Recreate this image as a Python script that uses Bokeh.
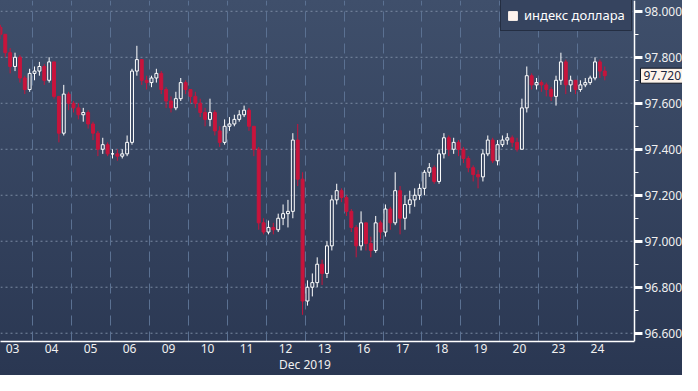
import numpy as np
from bokeh.plotting import figure
from bokeh.models import (Range1d, FixedTicker, CustomJSTickFormatter, NumeralTickFormatter,
                          LinearAxis, Label, Legend, LegendItem, ColumnDataSource, InlineStyleSheet)
from bokeh.embed import file_html
from bokeh.resources import INLINE

# ---------------- data ----------------
day_labels = ["03", "04", "05", "06", "09", "10", "11", "12", "13",
              "16", "17", "18", "19", "20", "23", "24"]
month_label = "Dec 2019"
series_name = "индекс доллара"
candles_per_day = [8] * 15 + [6]
open_first = 97.94

closes = [
    97.93, 97.90, 97.82, 97.76, 97.80, 97.71, 97.66, 97.73,   # 03
    97.74, 97.76, 97.70, 97.78, 97.63, 97.47, 97.64, 97.60,   # 04
    97.58, 97.55, 97.56, 97.51, 97.47, 97.40, 97.42, 97.38,   # 05
    97.38, 97.37, 97.38, 97.43, 97.74, 97.79, 97.70, 97.69,   # 06
    97.71, 97.73, 97.66, 97.61, 97.58, 97.62, 97.69, 97.66,   # 09
    97.63, 97.60, 97.56, 97.53, 97.56, 97.48, 97.43, 97.50,   # 10
    97.51, 97.53, 97.55, 97.57, 97.50, 97.40, 97.08, 97.04,   # 11
    97.06, 97.05, 97.10, 97.12, 97.13, 97.44, 97.27, 96.74,   # 12
    96.80, 96.82, 96.90, 96.86, 96.98, 97.18, 97.22, 97.19,   # 13
    97.13, 97.06, 96.98, 97.08, 96.99, 96.96, 97.08, 97.04,   # 16
    97.14, 97.08, 97.22, 97.10, 97.16, 97.18, 97.20, 97.23,   # 17
    97.30, 97.32, 97.26, 97.38, 97.45, 97.40, 97.43, 97.40,   # 18
    97.36, 97.32, 97.29, 97.28, 97.38, 97.44, 97.35, 97.42,   # 19
    97.44, 97.45, 97.43, 97.40, 97.58, 97.72, 97.68, 97.69,   # 20
    97.68, 97.66, 97.63, 97.70, 97.78, 97.68, 97.70, 97.66,   # 23
    97.68, 97.69, 97.71, 97.78, 97.74, 97.72,                 # 24
]
highs = [
    97.95, 97.94, 97.90, 97.84, 97.82, 97.81, 97.72, 97.75,
    97.76, 97.78, 97.77, 97.80, 97.78, 97.63, 97.68, 97.65,
    97.61, 97.60, 97.58, 97.57, 97.52, 97.48, 97.45, 97.43,
    97.40, 97.40, 97.40, 97.46, 97.75, 97.85, 97.79, 97.72,
    97.72, 97.75, 97.74, 97.67, 97.63, 97.65, 97.71, 97.70,
    97.66, 97.65, 97.62, 97.58, 97.62, 97.57, 97.50, 97.53,
    97.54, 97.55, 97.57, 97.59, 97.58, 97.50, 97.41, 97.10,
    97.09, 97.08, 97.12, 97.16, 97.18, 97.47, 97.51, 97.30,
    96.83, 96.86, 96.93, 96.92, 97.00, 97.20, 97.25, 97.23,
    97.20, 97.14, 97.07, 97.13, 97.08, 97.02, 97.11, 97.09,
    97.16, 97.15, 97.30, 97.24, 97.20, 97.22, 97.23, 97.25,
    97.31, 97.34, 97.33, 97.40, 97.47, 97.46, 97.45, 97.44,
    97.41, 97.37, 97.33, 97.31, 97.40, 97.46, 97.45, 97.44,
    97.46, 97.47, 97.46, 97.45, 97.62, 97.76, 97.73, 97.71,
    97.70, 97.69, 97.67, 97.72, 97.82, 97.79, 97.72, 97.70,
    97.70, 97.71, 97.72, 97.80, 97.79, 97.76,
]
lows = [
    97.91, 97.88, 97.80, 97.73, 97.74, 97.69, 97.64, 97.65,
    97.70, 97.72, 97.68, 97.69, 97.62, 97.43, 97.46, 97.57,
    97.56, 97.53, 97.52, 97.49, 97.44, 97.37, 97.38, 97.37,
    97.36, 97.35, 97.36, 97.37, 97.42, 97.72, 97.68, 97.66,
    97.67, 97.69, 97.64, 97.58, 97.56, 97.57, 97.61, 97.64,
    97.60, 97.58, 97.54, 97.50, 97.50, 97.46, 97.41, 97.42,
    97.48, 97.50, 97.52, 97.54, 97.48, 97.37, 97.05, 97.03,
    97.03, 97.03, 97.04, 97.07, 97.06, 97.10, 97.24, 96.68,
    96.72, 96.76, 96.80, 96.81, 96.84, 96.96, 97.16, 97.17,
    97.11, 97.04, 96.93, 96.96, 96.96, 96.93, 96.95, 97.01,
    97.02, 97.05, 97.07, 97.03, 97.05, 97.12, 97.15, 97.18,
    97.20, 97.28, 97.25, 97.25, 97.36, 97.37, 97.38, 97.37,
    97.34, 97.30, 97.26, 97.23, 97.26, 97.37, 97.34, 97.33,
    97.41, 97.42, 97.41, 97.39, 97.40, 97.56, 97.66, 97.66,
    97.65, 97.63, 97.61, 97.59, 97.68, 97.64, 97.65, 97.64,
    97.65, 97.67, 97.68, 97.70, 97.71, 97.70,
]
y_ticks = [96.6, 96.8, 97.0, 97.2, 97.4, 97.6, 97.8, 98.0]
y_minor = [96.7, 96.9, 97.1, 97.3, 97.5, 97.7, 97.9]

# ---------------- derived ----------------
SLOTS = 8
opens = [open_first] + closes[:-1]
xs = []
for i, n in enumerate(candles_per_day):
    for k in range(n):
        xs.append(i + (k + 0.5) / SLOTS)

RED = "#c8143c"
WHITE = "#ffffff"
up = [c >= o for o, c in zip(opens, closes)]
top = [max(o, c) for o, c in zip(opens, closes)]
bot = [min(o, c) for o, c in zip(opens, closes)]
src = ColumnDataSource(dict(
    x=xs, high=highs, low=lows, top=top, bot=bot,
    color=[WHITE if u else RED for u in up],
    falpha=[0.0 if u else 1.0 for u in up],
))

W, H = 682, 375
X0 = 0.19          # left edge of the view (days)
X_AX = 16.45       # where the price axis sits
AX_PX = 634        # pixel position of the price axis inside the frame
X1 = X0 + (X_AX - X0) * W / AX_PX
Y0, Y1 = 96.564, 98.047
css = InlineStyleSheet(css=":host{background:linear-gradient(180deg,#3f4f6b 0%,#2a3752 100%);}")

p = figure(width=W, height=H, x_range=Range1d(X0, X1), y_range=Range1d(Y0, Y1),
           output_backend="svg", toolbar_location=None, y_axis_location="right",
           min_border=0, min_border_bottom=34, border_fill_color=None, background_fill_color=None,
           outline_line_color=None, stylesheets=[css])

# horizontal dotted grid, only up to the price axis
p.ygrid.visible = False
p.segment(x0=[X0] * len(y_ticks), y0=y_ticks, x1=[X_AX] * len(y_ticks), y1=y_ticks,
          line_color="#7a8aa3", line_dash="2 3", line_width=1, level="underlay")

# wicks and bodies
p.segment(x0="x", y0="high", x1="x", y1="top", color="color", line_width=1, source=src)
p.segment(x0="x", y0="bot", x1="x", y1="low", color="color", line_width=1, source=src)
p.vbar(x="x", width=0.075, top="top", bottom="bot", fill_color="color", fill_alpha="falpha",
       line_color="color", line_width=1, source=src)

# right price axis, drawn at a fixed place inside the frame
ya = p.yaxis[0]
ya.fixed_location = X_AX
ya.ticker = FixedTicker(ticks=y_ticks, minor_ticks=y_minor)
ya.formatter = NumeralTickFormatter(format="0.000")
ya.axis_line_color = "white"
ya.axis_line_width = 1.5
ya.major_tick_line_color = "white"
ya.major_tick_line_width = 3
ya.major_tick_out = 8
ya.major_tick_in = 0
ya.minor_tick_line_color = "white"
ya.minor_tick_out = 4
ya.minor_tick_in = 0
ya.major_label_text_color = "#f0f0f0"
ya.major_label_text_font = "Noto Sans"
ya.major_label_text_font_size = "12px"
ya.major_label_standoff = 2

# bottom axis (days)
xa = p.xaxis[0]
xa.bounds = (X0, X_AX)
xa.ticker = FixedTicker(ticks=[i + 0.5 for i in range(len(day_labels))])
xa.formatter = CustomJSTickFormatter(args=dict(labels=day_labels),
                                     code="return labels[Math.floor(tick)] || '';")
xa.axis_line_color = "white"
xa.axis_line_width = 1.5
xa.major_tick_line_color = None
xa.minor_tick_line_color = None
xa.major_tick_out = 0
xa.minor_tick_out = 0
xa.major_label_text_color = "#f0f0f0"
xa.major_label_text_font = "Noto Sans"
xa.major_label_text_font_size = "12px"
xa.major_label_standoff = 2

# month label: second axis with a single tick at the 12/13 boundary
ax2 = LinearAxis(ticker=FixedTicker(ticks=[8.0], minor_ticks=[]),
                 formatter=CustomJSTickFormatter(args=dict(t=month_label), code="return t;"),
                 axis_line_color=None, major_tick_line_color=None, minor_tick_line_color=None,
                 major_tick_out=0, minor_tick_out=0, major_tick_in=0, minor_tick_in=0,
                 major_label_text_color="#f0f0f0", major_label_text_font="Noto Sans",
                 major_label_text_font_size="12px", major_label_standoff=0)
p.add_layout(ax2, "below")

# vertical dashed grid at day boundaries
p.xgrid.ticker = FixedTicker(ticks=list(range(1, len(day_labels))))
p.xgrid.grid_line_color = "#5b7192"
p.xgrid.grid_line_dash = "10 6"

# legend (top right, just left of the price axis)
proxy = p.vbar(x=[float("nan")], top=[float("nan")], bottom=[float("nan")], width=0.1,
               fill_color="#fff4ee", line_color="#fff4ee")
legend = Legend(items=[LegendItem(label=series_name, renderers=[proxy])],
                location=(AX_PX - 134, H - 34 - 4 - 27), padding=6, spacing=0,
                background_fill_color="#36445f", background_fill_alpha=1,
                border_line_color="#121826", border_line_width=1.5,
                label_text_color="white", label_text_font="Noto Sans",
                label_text_font_size="13px", glyph_width=11, glyph_height=11,
                label_standoff=6, label_height=14)
p.add_layout(legend)

# last price tag
p.add_layout(Label(x=X_AX, y=closes[-1], text=f"{closes[-1]:.3f}", x_offset=6,
                   text_baseline="middle", text_font="Noto Sans", text_font_size="12px",
                   text_color="#1b2540", background_fill_color="#fdf3ea",
                   border_line_color="#0f1420", border_line_width=1, padding=3))

open("out.html", "w").write(file_html(p, INLINE))
